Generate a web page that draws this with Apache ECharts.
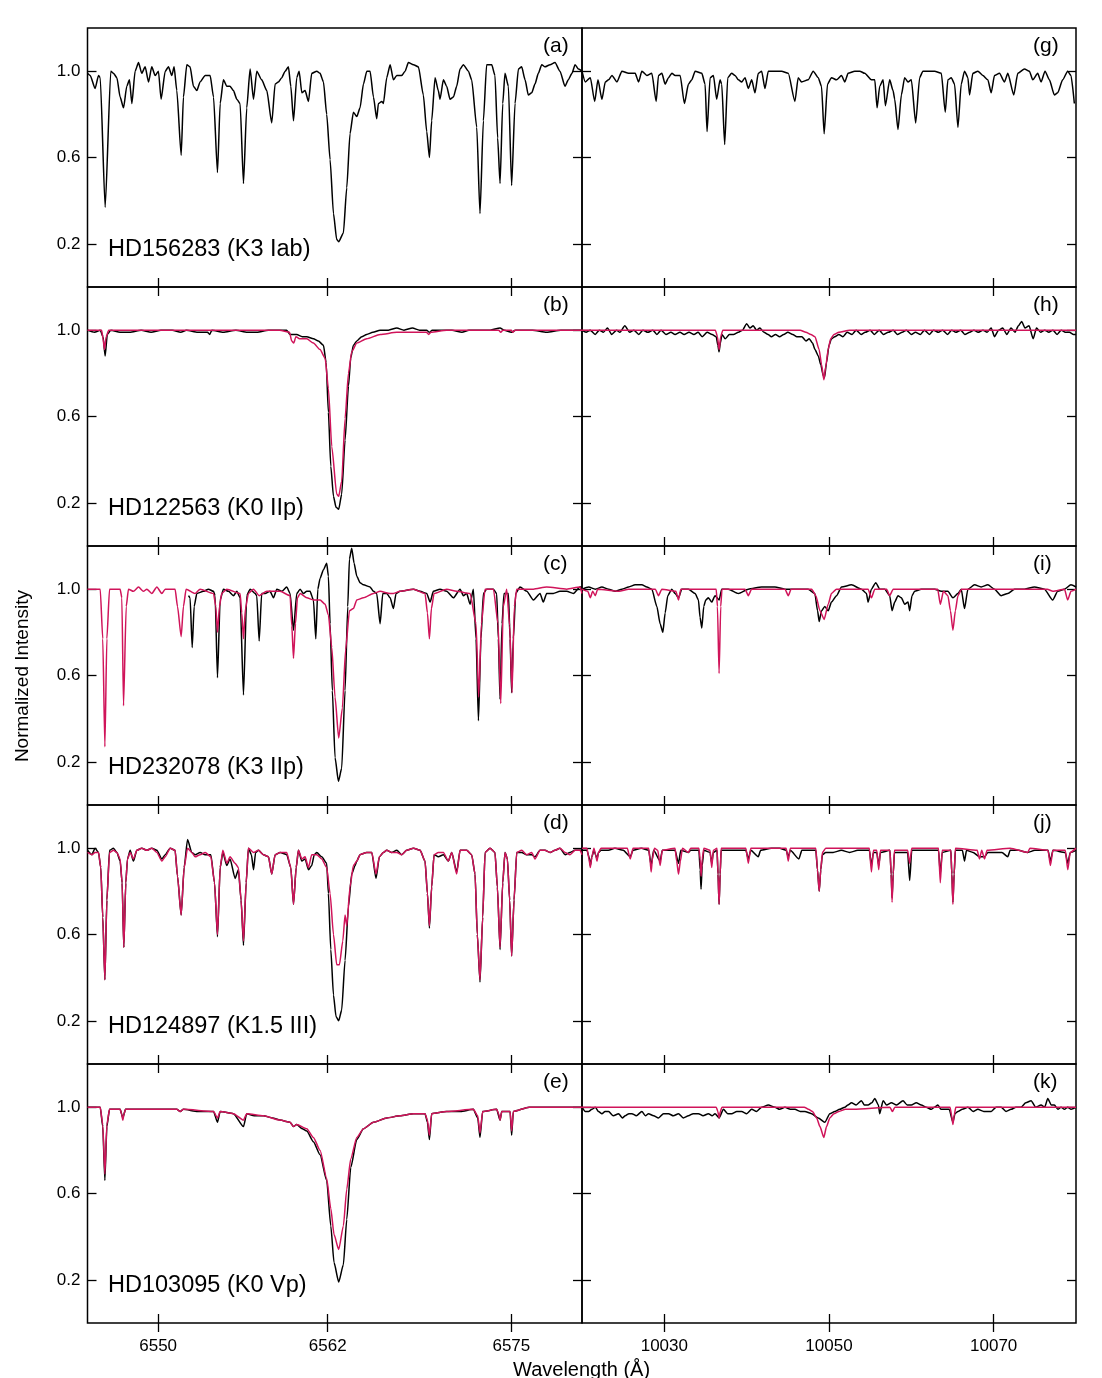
<!DOCTYPE html>
<html><head><meta charset="utf-8">
<script src="https://cdn.jsdelivr.net/npm/echarts@6/dist/echarts.min.js"></script>
<style>html,body{margin:0;padding:0;background:#fff}#c{width:1102px;height:1378px}</style>
</head><body><div id="c"></div>
<script>
// ---------- axis ticks / labels ----------
const leftTicks = [6550, 6562, 6575];
const rightTicks = [10030, 10050, 10070];
const yTicks = [0.2, 0.6, 1.0];
const leftRange = [6545, 6580];
const rightRange = [10020, 10080];
const yRange = [0, 1.2];
const panelLetters = ['(a)','(b)','(c)','(d)','(e)','(g)','(h)','(i)','(j)','(k)'];
const starNames = ['HD156283 (K3 Iab)','HD122563 (K0 IIp)','HD232078 (K3 IIp)','HD124897 (K1.5 III)','HD103095 (K0 Vp)'];

// ---------- spectra: [wavelength (Å), normalized intensity] ----------
const aBlack = [[6545.00,0.99],[6545.19,0.98],[6545.54,0.92],[6545.78,0.98],[6545.90,0.97],[6546.25,0.37],[6546.65,1.00],[6546.84,0.99],[6547.08,0.97],[6547.31,0.88],[6547.55,0.83],[6547.78,0.93],[6547.97,0.96],[6548.14,0.85],[6548.37,1.00],[6548.61,1.04],[6548.84,0.99],[6549.08,1.02],[6549.32,0.95],[6549.55,1.02],[6549.79,0.98],[6550.02,1.00],[6550.21,0.87],[6550.50,1.00],[6550.73,1.02],[6550.97,0.98],[6551.13,1.02],[6551.32,0.91],[6551.63,0.61],[6551.79,0.88],[6552.03,1.03],[6552.26,1.02],[6552.50,0.93],[6552.74,0.91],[6552.97,0.95],[6553.33,0.98],[6553.68,0.98],[6553.92,0.88],[6554.20,0.53],[6554.39,0.85],[6554.62,0.96],[6554.86,0.93],[6555.09,0.93],[6555.33,0.91],[6555.57,0.87],[6555.80,0.85],[6556.04,0.48],[6556.27,0.83],[6556.51,1.01],[6556.75,0.87],[6556.98,1.00],[6557.33,0.96],[6557.69,0.91],[6558.04,0.76],[6558.28,0.94],[6558.51,0.95],[6558.75,0.97],[6558.99,1.00],[6559.22,1.02],[6559.39,0.93],[6559.58,0.77],[6559.81,0.97],[6559.98,1.00],[6560.17,0.90],[6560.40,0.91],[6560.64,0.86],[6560.87,0.99],[6561.23,1.00],[6561.46,0.99],[6561.70,0.95],[6561.93,0.80],[6562.17,0.59],[6562.41,0.34],[6562.64,0.22],[6562.78,0.21],[6563.11,0.25],[6563.35,0.46],[6563.58,0.71],[6563.82,0.81],[6564.06,0.79],[6564.29,0.83],[6564.53,0.94],[6564.77,1.00],[6565.00,1.00],[6565.24,0.88],[6565.47,0.78],[6565.59,0.85],[6565.83,0.86],[6565.94,0.85],[6566.18,0.97],[6566.42,1.03],[6566.65,0.96],[6566.89,0.98],[6567.24,0.98],[6567.48,1.00],[6567.71,1.04],[6568.07,1.03],[6568.42,1.02],[6568.77,0.89],[6569.01,0.72],[6569.20,0.60],[6569.36,0.77],[6569.60,0.97],[6569.83,0.91],[6569.95,0.87],[6570.19,0.96],[6570.42,0.93],[6570.66,0.87],[6570.90,0.88],[6571.13,0.93],[6571.37,1.01],[6571.60,1.03],[6571.96,1.00],[6572.19,0.96],[6572.55,0.74],[6572.78,0.34],[6573.02,0.77],[6573.25,1.03],[6573.61,1.03],[6573.84,0.98],[6574.03,0.69],[6574.20,0.48],[6574.39,0.85],[6574.55,0.99],[6574.79,0.93],[6575.02,0.47],[6575.26,0.85],[6575.50,1.01],[6575.73,1.02],[6575.97,0.96],[6576.20,0.89],[6576.44,0.90],[6576.67,0.94],[6576.91,0.99],[6577.15,1.03],[6577.38,1.02],[6577.74,1.03],[6578.09,1.04],[6578.44,1.00],[6578.80,0.93],[6579.03,0.96],[6579.29,0.99],[6579.51,1.03],[6579.75,1.01],[6580.00,1.00]];

const bBlack = [[6545.00,1.00],[6545.50,0.99],[6545.90,1.00],[6546.10,0.97],[6546.25,0.88],[6546.40,0.98],[6546.65,1.00],[6547.30,0.99],[6548.00,0.99],[6548.80,1.00],[6549.50,0.99],[6550.20,1.00],[6551.00,1.00],[6551.60,0.99],[6552.00,1.00],[6552.80,0.99],[6553.50,0.99],[6553.65,0.98],[6553.80,1.00],[6554.60,0.99],[6555.50,1.00],[6556.30,0.99],[6557.00,0.99],[6557.80,1.00],[6558.50,1.00],[6559.10,1.00],[6559.34,0.98],[6559.58,0.98],[6559.81,0.98],[6560.20,0.97],[6560.52,0.97],[6560.99,0.96],[6561.34,0.95],[6561.70,0.93],[6561.89,0.85],[6562.05,0.62],[6562.22,0.37],[6562.41,0.23],[6562.59,0.18],[6562.78,0.17],[6562.99,0.24],[6563.23,0.49],[6563.47,0.74],[6563.63,0.87],[6563.82,0.93],[6564.06,0.95],[6564.41,0.97],[6564.76,0.98],[6565.20,0.99],[6565.71,1.00],[6566.30,1.00],[6566.89,1.01],[6567.40,1.00],[6568.00,1.01],[6568.50,1.00],[6569.00,1.00],[6569.20,0.99],[6569.40,1.00],[6570.00,1.00],[6570.80,1.00],[6571.50,0.99],[6572.00,1.00],[6572.80,1.00],[6573.50,1.00],[6574.20,1.01],[6574.50,1.00],[6575.00,0.99],[6575.30,1.00],[6576.50,1.00],[6577.50,0.99],[6578.50,1.00],[6579.30,1.00],[6580.00,1.00]];
const bRed = [[6545.00,1.00],[6546.00,1.00],[6546.10,0.96],[6546.20,0.91],[6546.32,0.97],[6546.50,1.00],[6550.00,1.00],[6553.50,1.00],[6556.00,1.00],[6558.60,1.00],[6559.30,0.99],[6559.45,0.95],[6559.60,0.94],[6559.75,0.97],[6560.00,0.96],[6560.52,0.96],[6560.99,0.94],[6561.46,0.91],[6561.82,0.87],[6562.05,0.73],[6562.29,0.46],[6562.64,0.24],[6562.78,0.23],[6562.99,0.30],[6563.23,0.59],[6563.47,0.80],[6563.70,0.90],[6564.06,0.94],[6564.76,0.96],[6565.71,0.98],[6566.89,0.99],[6568.07,0.99],[6569.00,0.99],[6569.15,0.98],[6569.30,0.99],[6570.42,1.00],[6574.10,1.00],[6574.25,0.99],[6574.40,1.00],[6575.00,1.00],[6575.10,0.99],[6575.25,1.00],[6580.00,1.00]];

const cBlack = [[6552.15,0.97],[6552.26,0.96],[6552.41,0.73],[6552.55,0.92],[6552.74,0.98],[6553.21,0.99],[6553.56,1.00],[6553.92,0.99],[6554.03,0.97],[6554.20,0.59],[6554.39,0.95],[6554.62,1.00],[6554.98,0.99],[6555.33,0.97],[6555.57,0.99],[6555.80,0.96],[6556.04,0.51],[6556.27,0.97],[6556.51,1.00],[6556.86,0.98],[6556.98,0.97],[6557.15,0.76],[6557.33,0.98],[6557.57,0.98],[6557.92,0.99],[6558.16,0.96],[6558.40,1.00],[6558.75,0.99],[6559.10,1.01],[6559.34,0.98],[6559.58,0.81],[6559.81,0.98],[6560.05,1.00],[6560.28,0.98],[6560.52,0.99],[6560.75,0.99],[6560.99,0.95],[6561.16,0.77],[6561.30,1.00],[6561.46,1.05],[6561.70,1.09],[6561.93,1.12],[6562.05,1.06],[6562.17,0.84],[6562.33,0.53],[6562.52,0.22],[6562.76,0.11],[6562.99,0.17],[6563.23,0.53],[6563.42,0.92],[6563.54,1.14],[6563.70,1.19],[6563.87,1.12],[6564.06,1.06],[6564.29,1.03],[6564.53,1.02],[6565.00,1.01],[6565.24,0.99],[6565.47,0.98],[6565.71,0.84],[6565.90,0.98],[6566.18,0.98],[6566.42,0.96],[6566.65,0.91],[6566.84,0.98],[6567.12,0.99],[6568.07,1.00],[6568.54,0.99],[6569.01,0.98],[6569.25,0.94],[6569.48,0.99],[6569.95,1.00],[6570.42,0.99],[6570.90,0.96],[6571.37,1.00],[6571.60,0.97],[6571.84,0.98],[6572.08,0.93],[6572.31,1.00],[6572.50,0.77],[6572.67,0.39],[6572.85,0.77],[6573.02,0.98],[6573.25,1.00],[6573.73,1.00],[6573.96,0.98],[6574.08,0.77],[6574.20,0.49],[6574.34,0.84],[6574.48,0.98],[6574.79,0.98],[6574.91,0.77],[6575.02,0.52],[6575.14,0.77],[6575.31,0.98],[6575.61,1.01],[6576.09,0.99],[6576.56,0.95],[6577.03,0.98],[6577.26,0.94],[6577.50,0.98],[6577.97,0.98],[6578.44,0.99],[6578.92,0.99],[6579.39,0.98],[6579.86,1.01],[6580.00,1.01]];
const cRed = [[6545.00,1.00],[6545.90,1.00],[6546.08,0.77],[6546.23,0.27],[6546.37,0.77],[6546.56,1.00],[6547.31,1.00],[6547.43,0.96],[6547.55,0.46],[6547.74,0.92],[6547.90,1.00],[6548.25,0.99],[6548.61,1.01],[6548.96,0.99],[6549.20,1.00],[6549.55,0.98],[6549.91,1.01],[6550.26,0.98],[6550.50,1.00],[6551.20,1.00],[6551.37,0.92],[6551.63,0.78],[6551.79,0.92],[6551.98,1.00],[6552.62,0.98],[6552.97,1.00],[6553.92,0.98],[6554.08,0.92],[6554.20,0.80],[6554.34,0.92],[6554.50,0.98],[6554.86,1.00],[6555.80,0.98],[6555.92,0.89],[6556.04,0.77],[6556.18,0.91],[6556.39,0.98],[6556.75,1.00],[6557.15,0.97],[6557.69,0.99],[6558.63,0.99],[6559.34,0.97],[6559.46,0.83],[6559.58,0.68],[6559.72,0.84],[6559.86,0.96],[6560.05,0.98],[6560.52,0.96],[6560.99,0.95],[6561.46,0.95],[6561.82,0.93],[6562.05,0.88],[6562.29,0.73],[6562.52,0.50],[6562.78,0.31],[6563.04,0.45],[6563.27,0.72],[6563.54,0.90],[6563.82,0.91],[6564.06,0.95],[6564.53,0.96],[6565.24,0.98],[6565.71,0.99],[6566.42,0.98],[6566.65,0.98],[6567.12,0.99],[6568.07,1.00],[6568.89,0.98],[6569.06,0.89],[6569.20,0.77],[6569.34,0.91],[6569.53,0.98],[6570.42,1.00],[6571.13,0.99],[6572.08,0.98],[6572.50,0.84],[6572.69,0.50],[6572.88,0.84],[6573.14,1.00],[6573.73,1.00],[6574.06,0.84],[6574.25,0.47],[6574.43,0.92],[6574.67,1.00],[6574.88,0.83],[6575.05,0.52],[6575.21,0.92],[6575.38,1.00],[6576.56,1.00],[6577.50,1.01],[6578.92,1.00],[6579.86,1.01],[6580.00,0.98]];

const dBlack = [[6545.00,0.99],[6545.31,0.97],[6545.54,1.00],[6545.78,0.98],[6545.94,0.91],[6546.08,0.68],[6546.23,0.39],[6546.37,0.76],[6546.56,0.99],[6546.84,1.00],[6547.08,0.98],[6547.31,0.94],[6547.45,0.84],[6547.57,0.54],[6547.71,0.84],[6547.83,0.95],[6548.02,0.99],[6548.25,0.94],[6548.49,0.99],[6548.84,1.00],[6549.20,0.99],[6549.55,1.00],[6549.91,0.99],[6550.26,0.95],[6550.50,0.97],[6550.85,1.00],[6551.20,0.99],[6551.37,0.87],[6551.63,0.69],[6551.84,0.91],[6552.08,1.04],[6552.38,0.98],[6552.62,0.97],[6552.97,0.98],[6553.33,0.97],[6553.73,0.97],[6553.99,0.84],[6554.20,0.59],[6554.39,0.91],[6554.58,0.98],[6554.86,0.92],[6555.09,0.95],[6555.45,0.86],[6555.68,0.90],[6555.87,0.76],[6556.04,0.55],[6556.23,0.84],[6556.39,1.00],[6556.60,0.97],[6556.75,0.90],[6556.90,0.98],[6557.10,0.99],[6557.45,0.97],[6557.81,0.96],[6558.04,0.88],[6558.28,0.97],[6558.63,0.98],[6559.10,0.97],[6559.39,0.91],[6559.58,0.74],[6559.77,0.91],[6559.93,0.99],[6560.17,0.94],[6560.40,0.95],[6560.64,0.90],[6560.87,0.92],[6561.05,0.97],[6561.23,0.98],[6561.58,0.96],[6561.93,0.93],[6562.05,0.79],[6562.22,0.53],[6562.41,0.32],[6562.59,0.22],[6562.78,0.20],[6562.99,0.25],[6563.23,0.48],[6563.47,0.73],[6563.70,0.88],[6563.94,0.92],[6564.06,0.94],[6564.29,0.97],[6564.76,0.98],[6565.12,0.98],[6565.42,0.86],[6565.66,0.96],[6565.94,0.98],[6566.18,0.99],[6566.53,0.98],[6566.89,0.99],[6567.24,0.97],[6567.59,0.99],[6568.07,1.00],[6568.54,0.99],[6568.89,0.94],[6569.06,0.79],[6569.20,0.63],[6569.36,0.82],[6569.53,0.97],[6569.83,0.96],[6570.19,0.97],[6570.54,0.94],[6570.78,0.98],[6571.13,0.89],[6571.37,0.99],[6571.84,0.99],[6572.19,0.97],[6572.43,0.88],[6572.59,0.60],[6572.78,0.38],[6572.97,0.68],[6573.14,0.98],[6573.49,1.00],[6573.84,0.98],[6574.01,0.82],[6574.20,0.53],[6574.39,0.84],[6574.55,0.98],[6574.72,0.95],[6574.88,0.76],[6575.02,0.50],[6575.19,0.76],[6575.38,0.98],[6575.73,0.98],[6576.08,0.97],[6576.44,0.97],[6576.67,0.96],[6577.03,0.99],[6577.38,0.99],[6577.74,0.98],[6578.09,0.99],[6578.44,1.00],[6578.80,0.97],[6579.15,0.98],[6579.51,0.99],[6579.86,0.99],[6580.00,0.99]];
const dRed = [[6545.00,0.98],[6545.31,0.97],[6545.54,0.98],[6545.78,0.98],[6545.94,0.91],[6546.08,0.68],[6546.23,0.39],[6546.37,0.76],[6546.56,0.98],[6546.84,0.99],[6547.08,0.98],[6547.31,0.95],[6547.45,0.84],[6547.57,0.54],[6547.71,0.84],[6547.83,0.95],[6548.02,0.98],[6548.25,0.95],[6548.49,0.99],[6548.84,1.00],[6549.20,0.99],[6549.55,1.00],[6549.91,0.98],[6550.26,0.94],[6550.50,0.96],[6550.85,1.00],[6551.20,0.99],[6551.37,0.87],[6551.63,0.69],[6551.84,0.91],[6552.08,1.00],[6552.38,0.98],[6552.62,0.96],[6552.97,0.97],[6553.33,0.98],[6553.73,0.96],[6553.99,0.84],[6554.20,0.60],[6554.39,0.91],[6554.58,0.99],[6554.86,0.93],[6555.09,0.96],[6555.45,0.93],[6555.68,0.91],[6555.87,0.76],[6556.04,0.57],[6556.23,0.84],[6556.39,1.00],[6556.75,0.98],[6557.10,0.99],[6557.45,0.97],[6557.81,0.96],[6558.04,0.88],[6558.28,0.97],[6558.63,0.98],[6559.10,0.98],[6559.39,0.91],[6559.58,0.74],[6559.77,0.91],[6559.93,0.99],[6560.17,0.95],[6560.40,0.96],[6560.64,0.91],[6560.87,0.97],[6561.23,0.97],[6561.58,0.95],[6561.93,0.91],[6562.17,0.79],[6562.41,0.60],[6562.64,0.46],[6562.83,0.46],[6563.07,0.57],[6563.23,0.69],[6563.35,0.64],[6563.58,0.82],[6563.82,0.92],[6564.06,0.94],[6564.29,0.97],[6564.76,0.98],[6565.12,0.98],[6565.42,0.88],[6565.66,0.96],[6565.94,0.98],[6566.18,0.99],[6566.53,0.98],[6566.89,0.98],[6567.24,0.97],[6567.59,0.99],[6568.07,1.00],[6568.54,0.99],[6568.89,0.94],[6569.06,0.79],[6569.20,0.64],[6569.36,0.82],[6569.53,0.97],[6569.83,0.98],[6570.19,0.98],[6570.54,0.94],[6570.78,0.98],[6571.13,0.88],[6571.37,0.99],[6571.84,0.99],[6572.19,0.97],[6572.43,0.88],[6572.59,0.60],[6572.78,0.39],[6572.97,0.68],[6573.14,0.98],[6573.49,1.00],[6573.84,0.98],[6574.01,0.82],[6574.20,0.54],[6574.39,0.84],[6574.55,0.98],[6574.72,0.95],[6574.88,0.76],[6575.02,0.50],[6575.19,0.76],[6575.38,0.98],[6575.73,0.99],[6576.08,0.97],[6576.44,0.98],[6576.67,0.95],[6577.03,0.99],[6577.38,0.99],[6577.74,0.98],[6578.09,0.99],[6578.44,1.00],[6578.80,0.98],[6579.15,0.97],[6579.51,0.99],[6579.86,0.99],[6580.00,0.97]];

const eBlack = [[6545.00,1.00],[6545.90,1.00],[6546.08,0.91],[6546.23,0.66],[6546.37,0.91],[6546.56,0.99],[6547.31,0.99],[6547.50,0.95],[6547.69,0.99],[6548.50,0.99],[6549.20,0.99],[6550.20,0.99],[6551.32,0.99],[6551.56,0.98],[6551.79,0.99],[6552.80,0.98],[6553.92,0.98],[6554.20,0.93],[6554.39,0.98],[6555.33,0.97],[6556.04,0.91],[6556.27,0.97],[6556.80,0.96],[6557.45,0.96],[6558.10,0.95],[6558.63,0.94],[6559.34,0.93],[6559.58,0.91],[6559.81,0.92],[6560.20,0.90],[6560.52,0.89],[6560.99,0.84],[6561.46,0.78],[6561.93,0.66],[6562.22,0.45],[6562.45,0.28],[6562.78,0.19],[6563.11,0.27],[6563.35,0.48],[6563.63,0.72],[6564.06,0.85],[6564.53,0.90],[6565.24,0.93],[6566.18,0.95],[6567.12,0.96],[6568.07,0.97],[6568.89,0.97],[6569.06,0.93],[6569.20,0.85],[6569.36,0.97],[6570.42,0.98],[6571.40,0.98],[6572.31,0.99],[6572.62,0.95],[6572.78,0.86],[6572.97,0.98],[6573.96,0.99],[6574.20,0.94],[6574.32,0.98],[6574.91,0.98],[6575.02,0.87],[6575.14,0.98],[6576.25,1.00],[6577.40,1.00],[6578.61,1.00],[6579.50,1.00],[6580.00,1.00]];
const eRed = [[6545.00,1.00],[6545.90,1.00],[6546.08,0.92],[6546.23,0.69],[6546.37,0.92],[6546.56,0.99],[6547.31,0.99],[6547.41,0.97],[6547.50,0.94],[6547.59,0.97],[6547.69,0.99],[6549.20,0.99],[6551.32,0.99],[6551.56,0.98],[6551.79,0.99],[6553.92,0.98],[6554.20,0.95],[6554.39,0.98],[6555.33,0.97],[6556.04,0.94],[6556.27,0.97],[6557.45,0.96],[6558.63,0.94],[6559.34,0.93],[6559.58,0.91],[6559.81,0.92],[6560.52,0.90],[6560.99,0.86],[6561.46,0.80],[6561.93,0.67],[6562.22,0.53],[6562.45,0.41],[6562.78,0.34],[6563.11,0.45],[6563.35,0.62],[6563.63,0.76],[6564.06,0.86],[6564.53,0.90],[6565.24,0.93],[6566.18,0.95],[6567.12,0.96],[6568.07,0.97],[6568.89,0.97],[6569.06,0.94],[6569.20,0.87],[6569.36,0.97],[6570.42,0.98],[6572.31,0.99],[6572.62,0.96],[6572.78,0.88],[6572.97,0.98],[6573.96,0.99],[6574.10,0.97],[6574.20,0.94],[6574.32,0.98],[6574.91,0.98],[6575.02,0.89],[6575.14,0.98],[6576.25,1.00],[6578.61,1.00],[6580.00,1.00]];

const gBlack = [[10020.00,1.00],[10020.40,0.95],[10021.01,0.97],[10021.54,0.86],[10021.94,0.96],[10022.42,0.87],[10022.83,0.95],[10023.23,0.96],[10023.64,0.98],[10024.24,0.95],[10024.85,1.00],[10025.66,0.99],[10026.46,0.99],[10026.87,0.95],[10027.27,1.00],[10027.88,0.98],[10028.48,0.99],[10029.01,0.86],[10029.29,0.98],[10029.70,0.99],[10030.10,0.94],[10030.51,0.97],[10030.91,0.99],[10031.31,0.98],[10031.92,0.98],[10032.44,0.85],[10032.93,0.94],[10033.33,0.96],[10033.74,1.00],[10034.55,0.99],[10034.95,0.94],[10035.19,0.72],[10035.56,0.97],[10035.96,0.98],[10036.36,0.87],[10036.77,0.96],[10036.97,0.94],[10037.33,0.66],[10037.70,0.97],[10038.18,0.99],[10038.59,0.98],[10038.99,0.96],[10039.39,0.95],[10039.80,0.97],[10040.20,0.92],[10040.61,0.96],[10041.01,0.90],[10041.41,0.99],[10041.82,1.00],[10042.22,0.92],[10042.63,1.00],[10043.43,1.00],[10044.24,1.00],[10045.05,0.99],[10045.86,0.86],[10046.26,0.97],[10046.67,0.95],[10047.47,0.96],[10048.08,1.00],[10048.69,0.97],[10049.09,0.93],[10049.41,0.71],[10049.82,0.94],[10050.30,0.97],[10050.91,0.96],[10051.52,0.98],[10051.92,0.95],[10052.32,0.99],[10053.13,1.00],[10053.74,1.00],[10054.34,0.99],[10055.15,0.96],[10055.56,0.96],[10055.84,0.83],[10056.16,0.93],[10056.57,0.96],[10056.85,0.84],[10057.37,0.96],[10057.78,0.91],[10057.98,0.87],[10058.38,0.73],[10058.79,0.89],[10059.19,0.97],[10059.60,0.95],[10060.00,0.96],[10060.53,0.76],[10061.01,0.97],[10061.41,1.00],[10062.02,1.00],[10062.83,1.00],[10063.64,0.99],[10064.12,0.81],[10064.44,0.96],[10064.85,0.97],[10065.25,0.94],[10065.66,0.74],[10066.06,0.94],[10066.46,1.00],[10066.87,0.97],[10067.07,0.89],[10067.47,0.99],[10068.08,1.00],[10068.69,0.98],[10069.29,0.96],[10069.70,0.90],[10070.10,0.98],[10070.71,0.99],[10071.31,0.95],[10071.72,0.99],[10072.44,0.89],[10072.93,0.99],[10073.74,1.01],[10074.34,1.00],[10074.75,0.96],[10075.35,0.99],[10075.76,0.95],[10076.24,1.00],[10076.77,0.96],[10077.37,0.89],[10077.78,0.90],[10078.38,0.96],[10078.99,1.00],[10079.39,0.98],[10079.80,0.85]];

const hBlack = [[10020.0,1.00],[10020.5,0.99],[10021.0,1.00],[10021.6,0.98],[10022.1,1.00],[10022.6,0.99],[10023.1,1.01],[10023.6,0.98],[10024.2,1.00],[10024.6,0.99],[10025.2,1.02],[10025.8,0.99],[10026.3,1.00],[10026.9,0.98],[10027.4,1.00],[10028.0,0.99],[10028.6,1.00],[10029.1,0.98],[10029.6,1.00],[10030.2,0.98],[10030.8,0.99],[10031.3,0.98],[10031.9,0.99],[10032.4,0.98],[10033.0,0.99],[10033.6,0.98],[10034.1,0.99],[10034.6,0.97],[10035.2,0.99],[10035.8,0.98],[10036.3,0.97],[10036.5,0.93],[10036.65,0.90],[10036.8,0.94],[10037.0,0.98],[10037.4,0.96],[10037.9,0.98],[10038.4,0.98],[10039.0,0.99],[10039.5,1.00],[10040.0,1.03],[10040.4,1.01],[10040.8,1.02],[10041.2,1.00],[10041.6,1.01],[10042.1,0.99],[10042.6,0.98],[10043.0,0.97],[10043.5,0.98],[10044.0,0.97],[10044.5,0.98],[10045.0,0.99],[10045.6,0.98],[10046.1,0.97],[10046.7,0.97],[10047.2,0.95],[10047.6,0.96],[10048.0,0.94],[10048.3,0.91],[10048.7,0.88],[10049.0,0.84],[10049.3,0.79],[10049.45,0.78],[10049.7,0.85],[10050.0,0.93],[10050.3,0.96],[10050.7,0.97],[10051.2,0.98],[10051.7,0.97],[10052.2,0.99],[10052.8,0.98],[10053.3,1.00],[10053.9,0.98],[10054.4,0.99],[10055.0,1.00],[10055.5,0.98],[10056.1,1.00],[10056.6,0.98],[10057.2,0.99],[10057.8,1.00],[10058.3,0.98],[10058.9,0.99],[10059.4,1.00],[10060.0,0.98],[10060.5,0.99],[10061.1,0.98],[10061.6,1.00],[10062.2,0.98],[10062.7,1.00],[10063.3,0.99],[10063.8,1.00],[10064.4,0.98],[10064.9,1.00],[10065.4,0.99],[10066.0,1.00],[10066.5,0.98],[10067.1,0.99],[10067.6,1.00],[10068.1,0.99],[10068.7,1.00],[10069.2,0.99],[10069.7,1.01],[10070.1,0.97],[10070.6,1.00],[10071.1,1.01],[10071.6,0.98],[10072.1,1.01],[10072.6,0.99],[10073.0,1.02],[10073.4,1.04],[10073.8,1.01],[10074.3,1.02],[10074.8,0.96],[10075.2,1.01],[10075.7,0.99],[10076.2,1.00],[10076.7,0.99],[10077.2,1.00],[10077.7,0.98],[10078.2,1.00],[10078.7,0.99],[10079.2,0.99],[10079.7,0.98],[10080.0,0.98]];
const hRed = [[10020.0,1.00],[10036.2,1.00],[10036.45,0.97],[10036.65,0.91],[10036.85,0.97],[10037.1,1.00],[10046.5,1.00],[10047.2,0.99],[10047.8,0.98],[10048.3,0.97],[10048.8,0.91],[10049.1,0.84],[10049.37,0.77],[10049.6,0.83],[10049.9,0.91],[10050.2,0.96],[10050.6,0.98],[10051.2,0.99],[10052.5,1.00],[10080.0,1.00]];

const iBlack = [[10020.00,1.00],[10020.81,1.01],[10021.62,1.00],[10022.42,1.01],[10023.23,1.00],[10024.04,0.99],[10024.85,1.00],[10025.66,1.01],[10026.46,1.02],[10027.27,1.02],[10027.88,1.01],[10028.48,1.00],[10029.09,0.92],[10029.49,0.84],[10029.82,0.80],[10030.10,0.89],[10030.42,0.97],[10030.91,1.00],[10031.31,0.98],[10031.72,0.96],[10032.12,1.00],[10032.93,1.00],[10033.74,0.98],[10034.14,0.95],[10034.34,0.87],[10034.55,0.82],[10034.79,0.92],[10035.03,0.95],[10035.35,0.96],[10035.76,0.94],[10036.16,0.97],[10036.65,0.95],[10036.97,1.00],[10037.78,1.00],[10038.99,0.98],[10040.20,1.00],[10041.82,1.01],[10043.43,1.01],[10044.65,1.00],[10045.86,1.00],[10047.47,1.00],[10048.28,0.98],[10048.61,0.90],[10048.81,0.85],[10049.09,0.90],[10049.49,0.92],[10049.90,0.90],[10050.30,0.94],[10050.91,0.97],[10051.52,1.01],[10052.73,1.02],[10053.94,1.00],[10054.55,0.98],[10054.75,0.94],[10055.15,1.00],[10055.68,1.03],[10056.16,1.00],[10056.77,1.00],[10057.37,0.97],[10057.66,0.90],[10057.98,0.94],[10058.38,0.97],[10058.79,0.96],[10059.19,0.93],[10059.60,0.94],[10059.80,0.90],[10060.08,0.97],[10060.40,0.99],[10061.21,1.00],[10062.83,1.00],[10063.64,0.99],[10064.44,0.99],[10065.05,0.96],[10065.66,0.98],[10066.06,1.00],[10066.46,0.91],[10066.87,1.00],[10067.68,1.02],[10068.48,1.01],[10069.29,1.02],[10070.10,1.00],[10070.91,0.97],[10071.72,0.98],[10072.53,1.00],[10073.74,1.00],[10074.95,1.01],[10076.16,1.00],[10077.17,0.95],[10077.78,0.99],[10078.59,1.00],[10079.39,1.02],[10080.00,1.01]];
const iRed = [[10020.00,1.00],[10020.70,0.99],[10021.01,0.96],[10021.30,0.99],[10021.62,0.97],[10021.90,1.00],[10024.50,0.99],[10025.66,1.00],[10028.90,1.00],[10029.29,0.97],[10029.70,1.00],[10031.40,0.99],[10031.72,0.95],[10032.00,1.00],[10036.30,1.00],[10036.45,0.92],[10036.65,0.61],[10036.85,0.92],[10037.00,1.00],[10039.80,1.00],[10040.20,0.97],[10040.60,1.00],[10044.65,1.00],[10045.05,0.97],[10045.40,1.00],[10047.90,1.00],[10048.40,0.97],[10048.90,0.90],[10049.41,0.86],[10049.90,0.93],[10050.30,0.98],[10050.91,1.00],[10054.75,1.00],[10055.15,0.96],[10055.56,1.00],[10057.00,1.00],[10057.37,0.97],[10057.80,1.00],[10063.20,1.00],[10063.52,0.93],[10063.90,0.99],[10064.44,0.97],[10064.75,0.90],[10065.05,0.81],[10065.35,0.90],[10065.66,0.97],[10066.10,1.00],[10076.50,1.00],[10077.20,0.99],[10078.60,1.00],[10078.99,0.95],[10079.39,0.99],[10080.00,1.00]];

const jBlack = [[10020.00,0.99],[10020.60,0.99],[10020.85,0.96],[10021.01,0.92],[10021.20,0.96],[10021.45,0.99],[10021.65,0.97],[10021.82,0.95],[10022.00,0.98],[10022.30,0.99],[10023.20,0.99],[10024.00,1.00],[10025.00,0.99],[10025.86,0.96],[10026.20,0.99],[10027.20,1.00],[10028.10,0.99],[10028.40,0.92],[10028.70,0.99],[10029.49,0.94],[10029.75,0.99],[10030.50,0.99],[10031.30,0.99],[10031.72,0.93],[10032.00,0.99],[10032.90,0.98],[10033.20,0.99],[10034.20,0.99],[10034.35,0.90],[10034.46,0.81],[10034.60,0.92],[10034.80,0.99],[10035.55,0.98],[10035.76,0.93],[10035.95,0.98],[10036.40,0.99],[10036.52,0.88],[10036.65,0.74],[10036.78,0.88],[10036.90,0.99],[10038.00,0.99],[10039.00,0.99],[10039.90,0.99],[10040.20,0.95],[10040.50,0.99],[10041.41,0.96],[10041.70,0.99],[10043.00,1.00],[10044.00,1.00],[10044.80,0.99],[10045.05,0.96],[10045.30,0.99],[10046.34,0.95],[10046.70,0.99],[10047.80,0.99],[10048.40,0.99],[10048.60,0.90],[10048.81,0.80],[10049.00,0.90],[10049.20,0.97],[10049.60,0.98],[10050.50,0.98],[10051.50,0.99],[10052.50,0.98],[10053.50,0.99],[10054.40,0.99],[10054.90,0.99],[10055.15,0.92],[10055.40,0.98],[10055.80,0.98],[10056.04,0.92],[10056.25,0.98],[10057.40,0.99],[10057.55,0.88],[10057.66,0.77],[10057.80,0.88],[10057.95,0.98],[10058.50,0.98],[10059.55,0.98],[10059.80,0.85],[10060.05,0.99],[10061.00,0.99],[10062.50,0.99],[10063.30,0.99],[10063.52,0.88],[10063.75,0.98],[10064.80,0.99],[10064.92,0.88],[10065.05,0.75],[10065.20,0.88],[10065.35,0.99],[10066.20,0.99],[10066.46,0.94],[10066.70,0.99],[10067.50,0.98],[10068.28,0.96],[10068.89,0.96],[10069.30,0.98],[10070.00,0.98],[10071.00,0.98],[10071.72,0.96],[10072.00,0.99],[10073.00,0.99],[10074.14,0.98],[10075.00,0.99],[10076.00,0.99],[10076.60,0.99],[10076.89,0.94],[10077.20,0.99],[10078.70,0.98],[10079.00,0.93],[10079.30,0.98],[10080.00,0.99]];
const jRed = [[10020.00,1.00],[10020.60,1.00],[10020.85,0.95],[10021.01,0.91],[10021.20,0.96],[10021.45,1.00],[10021.65,0.97],[10021.82,0.94],[10022.00,0.98],[10022.30,1.00],[10025.50,1.00],[10025.86,0.95],[10026.20,1.00],[10028.10,1.00],[10028.25,0.95],[10028.40,0.89],[10028.55,0.95],[10028.80,1.00],[10029.20,0.99],[10029.49,0.92],[10029.75,0.99],[10031.30,1.00],[10031.50,0.94],[10031.72,0.88],[10031.95,0.94],[10032.20,1.00],[10032.90,0.98],[10033.20,1.00],[10034.20,1.00],[10034.35,0.95],[10034.46,0.87],[10034.60,0.95],[10034.80,1.00],[10035.55,0.99],[10035.76,0.91],[10035.95,0.99],[10036.40,1.00],[10036.52,0.88],[10036.65,0.74],[10036.78,0.88],[10036.90,1.00],[10039.90,1.00],[10040.20,0.93],[10040.50,1.00],[10044.80,1.00],[10045.05,0.94],[10045.30,1.00],[10048.40,1.00],[10048.60,0.90],[10048.81,0.80],[10049.00,0.90],[10049.20,0.98],[10049.60,1.00],[10054.90,1.00],[10055.15,0.89],[10055.40,0.99],[10055.80,0.99],[10056.04,0.90],[10056.25,0.99],[10057.40,0.99],[10057.55,0.88],[10057.66,0.75],[10057.80,0.88],[10057.95,0.99],[10059.55,0.99],[10059.80,0.93],[10060.05,1.00],[10063.30,1.00],[10063.52,0.84],[10063.75,0.99],[10064.80,0.99],[10064.92,0.88],[10065.05,0.74],[10065.20,0.88],[10065.35,1.00],[10068.00,0.99],[10068.28,0.95],[10068.55,0.99],[10068.89,0.95],[10069.20,0.99],[10072.00,1.00],[10074.14,0.98],[10074.40,1.00],[10076.60,0.99],[10076.89,0.92],[10077.20,0.99],[10078.70,0.99],[10079.00,0.90],[10079.30,0.98],[10080.00,1.00]];

const kBlack = [[10020.00,1.00],[10020.40,0.98],[10020.81,0.98],[10021.20,0.99],[10021.62,1.00],[10022.00,0.98],[10022.42,0.97],[10022.80,0.98],[10023.23,0.98],[10023.80,0.96],[10024.44,0.97],[10024.90,0.95],[10025.25,0.96],[10025.70,0.97],[10026.06,0.97],[10026.60,0.96],[10027.27,0.98],[10027.70,0.96],[10028.08,0.97],[10028.70,0.96],[10029.29,0.95],[10029.90,0.97],[10030.51,0.97],[10031.10,0.96],[10031.72,0.97],[10032.30,0.95],[10032.93,0.96],[10033.50,0.97],[10034.14,0.97],[10034.70,0.96],[10035.35,0.97],[10035.80,0.96],[10036.16,0.97],[10036.65,0.95],[10037.17,0.99],[10037.70,0.97],[10038.18,0.97],[10038.80,0.98],[10039.39,0.98],[10040.00,0.97],[10040.61,0.99],[10041.20,0.98],[10041.82,1.00],[10042.63,1.01],[10043.43,1.00],[10044.00,0.99],[10044.65,1.00],[10045.30,0.99],[10045.86,0.99],[10046.50,0.98],[10047.07,0.98],[10047.88,0.97],[10048.69,0.95],[10049.49,0.93],[10050.10,0.97],[10050.71,0.98],[10051.30,0.99],[10051.92,1.00],[10052.30,1.01],[10052.73,1.02],[10053.30,1.01],[10053.94,1.03],[10054.30,1.01],[10054.75,1.01],[10055.20,1.02],[10055.56,1.04],[10056.00,1.01],[10056.16,0.97],[10056.57,1.03],[10057.00,1.01],[10057.58,1.02],[10058.20,1.01],[10058.99,1.03],[10059.50,1.01],[10060.00,1.01],[10060.60,1.02],[10061.21,1.01],[10061.80,1.00],[10062.42,0.99],[10062.80,1.00],[10063.23,1.01],[10063.60,0.99],[10064.04,0.99],[10064.60,0.99],[10065.05,0.93],[10065.30,0.97],[10065.66,0.98],[10066.20,0.99],[10066.87,1.00],[10067.50,0.98],[10068.08,0.99],[10068.80,0.98],[10069.70,0.98],[10070.30,1.00],[10070.91,1.00],[10071.50,0.98],[10072.12,0.99],[10072.70,1.00],[10073.33,1.00],[10073.90,1.02],[10074.55,1.03],[10075.10,1.00],[10075.76,1.01],[10076.20,1.00],[10076.57,1.04],[10077.00,1.01],[10077.37,1.01],[10077.80,0.99],[10078.18,1.00],[10078.60,0.99],[10078.99,1.00],[10079.40,0.99],[10080.00,1.00]];
const kRed = [[10020.00,1.00],[10036.30,1.00],[10036.50,0.98],[10036.65,0.95],[10036.80,0.98],[10037.00,1.00],[10047.00,1.00],[10047.50,0.99],[10048.00,0.98],[10048.50,0.95],[10048.90,0.91],[10049.37,0.86],[10049.70,0.91],[10050.10,0.95],[10050.60,0.97],[10051.20,0.98],[10052.00,0.99],[10053.00,0.99],[10057.40,1.00],[10057.70,0.98],[10058.00,1.00],[10064.70,1.00],[10064.90,0.96],[10065.05,0.92],[10065.20,0.96],[10065.40,1.00],[10080.00,1.00]];

// panel order: a b c d e (left), g h i j k (right)
const observed = [aBlack, bBlack, cBlack, dBlack, eBlack, gBlack, hBlack, iBlack, jBlack, kBlack];
const models = [null, bRed, cRed, dRed, eRed, null, hRed, iRed, jRed, kRed];

// ---------- layout ----------
const FONT = "'Liberation Sans', Arial, Helvetica, sans-serif";
const COL_LEFT = [87.5, 582];
const COL_W = [494.5, 494];
const TOP0 = 28, PH = 259;

const grids = [], xAxes = [], yAxes = [], series = [], graphics = [];
for (let i = 0; i < 10; i++) {
  const col = i < 5 ? 0 : 1, row = i % 5;
  const top = TOP0 + row * PH;
  grids.push({left: COL_LEFT[col], top: top, width: COL_W[col], height: PH,
    show: true, borderColor: '#000', borderWidth: 1.5, backgroundColor: 'transparent'});
  const range = col === 0 ? leftRange : rightRange;
  const ticks = col === 0 ? leftTicks : rightTicks;
  ['bottom', 'top'].forEach(pos => {
    xAxes.push({gridIndex: i, type: 'value', position: pos, min: range[0], max: range[1],
      axisLine: {show: false}, splitLine: {show: false},
      axisTick: {show: true, inside: true, length: 9, customValues: ticks, lineStyle: {color: '#000', width: 1.3}},
      axisLabel: {show: pos === 'bottom' && row === 4, customValues: ticks, margin: 15,
        formatter: v => String(v), color: '#000', fontSize: 17, fontFamily: FONT}});
  });
  ['left', 'right'].forEach(pos => {
    yAxes.push({gridIndex: i, type: 'value', position: pos, min: yRange[0], max: yRange[1],
      axisLine: {show: false}, splitLine: {show: false},
      axisTick: {show: true, inside: true, length: 9, customValues: yTicks, lineStyle: {color: '#000', width: 1.3}},
      axisLabel: {show: pos === 'left' && col === 0, customValues: yTicks, margin: 7,
        formatter: v => v.toFixed(1), color: '#000', fontSize: 17, fontFamily: FONT}});
  });
  series.push({type: 'line', xAxisIndex: 2 * i, yAxisIndex: 2 * i, data: observed[i],
    symbol: 'none', silent: true, z: 2, smooth: 0.2, smoothMonotone: 'x',
    lineStyle: {color: '#000', width: 1.5}});
  if (models[i]) {
    series.push({type: 'line', xAxisIndex: 2 * i, yAxisIndex: 2 * i, data: models[i],
      symbol: 'none', silent: true, z: 3, smooth: 0.2, smoothMonotone: 'x',
      lineStyle: {color: '#d0145a', width: 1.5}});
  }
  graphics.push({type: 'text', left: col === 0 ? 543 : 1033, top: top + 8,
    style: {text: panelLetters[i], font: '21px ' + FONT, fill: '#000'}});
  if (col === 0) {
    graphics.push({type: 'text', left: 108, top: top + 210,
      style: {text: starNames[row], font: '23.5px ' + FONT, fill: '#000'}});
  }
}
graphics.push({type: 'text', left: 13, top: 590, rotation: Math.PI / 2,
  style: {text: 'Normalized Intensity', font: '19px ' + FONT, fill: '#000'}});
graphics.push({type: 'text', left: 513, top: 1360,
  style: {text: 'Wavelength (Å)', font: '20px ' + FONT, fill: '#000'}});

const chart = echarts.init(document.getElementById('c'), null, {renderer: 'canvas'});
chart.setOption({animation: false, backgroundColor: '#fff',
  grid: grids, xAxis: xAxes, yAxis: yAxes, series: series, graphic: graphics});
</script></body></html>
